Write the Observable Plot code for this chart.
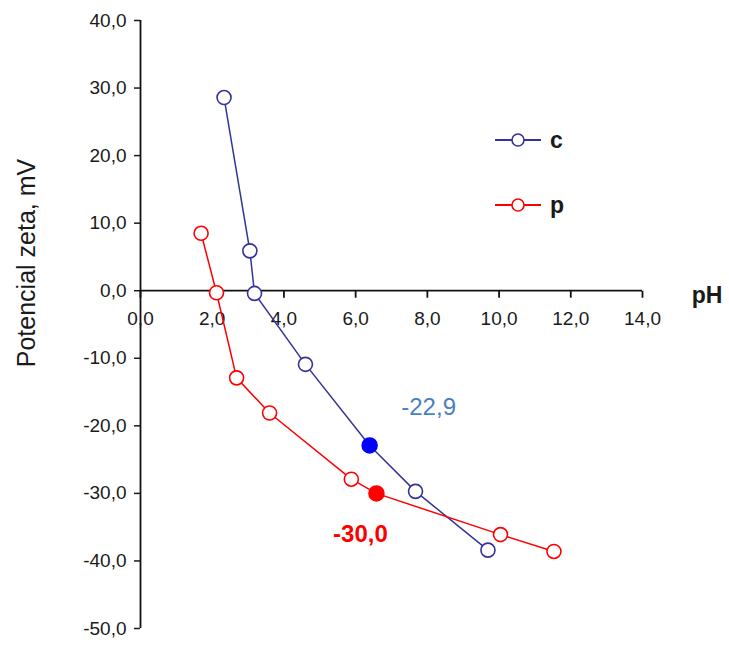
<!DOCTYPE html>
<html>
<head>
<meta charset="utf-8">
<script src="https://cdn.jsdelivr.net/npm/d3@7"></script>
<script src="https://cdn.jsdelivr.net/npm/@observablehq/plot@0.6"></script>
<style>
  html, body { margin: 0; padding: 0; background: #fff; }
  #wrap { position: relative; width: 729px; height: 645px; font-family: "Liberation Sans", Arial, sans-serif; }
  #ylab { position: absolute; left: 26px; top: 263px; transform: translate(-50%, -50%) rotate(-90deg); font-size: 25px; color: #1a1a1a; white-space: nowrap; }
  #xlab { position: absolute; left: 707px; top: 295px; transform: translate(-50%, -50%); font-size: 23px; font-weight: bold; color: #1a1a1a; }
  #legend { position: absolute; left: 0; top: 0; }
</style>
</head>
<body>
<div id="wrap">
  <div id="chart"></div>
  <div id="ylab">Potencial zeta, mV</div>
  <div id="xlab">pH</div>
</div>
<script>
// ---- data ----
const seriesNames = ["c", "p"];
const seriesColors = ["#333399", "#ff0000"];
const highlightColors = ["#0000ff", "#ff0000"];
const cX = [2.33, 3.05, 3.18, 4.6, 6.39, 7.67, 9.69];
const cY = [28.6, 5.9, -0.4, -10.9, -22.9, -29.7, -38.4];
const cHighlight = 4;
const pX = [1.69, 2.12, 2.68, 3.6, 5.88, 6.58, 10.04, 11.53];
const pY = [8.5, -0.3, -12.9, -18.1, -27.9, -30.0, -36.1, -38.6];
const pHighlight = 5;
const xTicks = [0, 2, 4, 6, 8, 10, 12, 14];
const yTicks = [-50, -40, -30, -20, -10, 0, 10, 20, 30, 40];

const fmt = v => v.toFixed(1).replace(".", ",");

const c = cX.map((x, i) => ({x, y: cY[i], hi: i === cHighlight}));
const p = pX.map((x, i) => ({x, y: pY[i], hi: i === pHighlight}));

const tickSymbol = { draw(ctx, size) { ctx.moveTo(0, 0); ctx.lineTo(0, 7); } };

const chart = Plot.plot({
  width: 729,
  height: 645,
  marginLeft: 140,
  marginRight: 87,
  marginTop: 20,
  marginBottom: 17,
  x: {domain: [0, 14]},
  y: {domain: [-50, 40]},
  style: {fontFamily: "'Liberation Sans', Arial, sans-serif", fontSize: "19px", color: "#1a1a1a", background: "white"},
  marks: [
    Plot.axisY(yTicks, {anchor: "left", tickSize: 6, tickPadding: 8, tickFormat: fmt, label: null, fontSize: 19, strokeWidth: 1.5}),
    Plot.axisX([], {label: null, tickSize: 0}),
    Plot.ruleX([0], {y1: -50, y2: 40, stroke: "#111", strokeWidth: 1.8}),
    Plot.ruleY([0], {x1: 0, x2: 14, stroke: "#111", strokeWidth: 1.8}),
    Plot.dot(xTicks, {x: d => d, y: () => 0, symbol: tickSymbol, stroke: "#111", strokeWidth: 1.8, fill: "none"}),
    Plot.text(xTicks, {x: d => d, y: () => 0, text: d => fmt(d), dy: 28, fontSize: 19, fill: "#1a1a1a"}),
    Plot.line(c, {x: "x", y: "y", stroke: seriesColors[0], strokeWidth: 1.5}),
    Plot.line(p, {x: "x", y: "y", stroke: seriesColors[1], strokeWidth: 1.5}),
    Plot.dot(c.filter(d => !d.hi), {x: "x", y: "y", r: 7, stroke: seriesColors[0], fill: "white", strokeWidth: 1.6}),
    Plot.dot(p.filter(d => !d.hi), {x: "x", y: "y", r: 7, stroke: seriesColors[1], fill: "white", strokeWidth: 1.6}),
    Plot.dot(c.filter(d => d.hi), {x: "x", y: "y", r: 7.5, fill: highlightColors[0], stroke: highlightColors[0]}),
    Plot.dot(p.filter(d => d.hi), {x: "x", y: "y", r: 7.5, fill: highlightColors[1], stroke: highlightColors[1]}),
    Plot.text(c.filter(d => d.hi), {x: "x", y: "y", text: d => fmt(d.y), dx: 59, dy: -38, fontSize: 24, fill: "#4a7fc1"}),
    Plot.text(p.filter(d => d.hi), {x: "x", y: "y", text: d => fmt(d.y), dx: -16, dy: 41, fontSize: 24, fontWeight: "bold", fill: "#ff0000"})
  ]
});
document.getElementById("chart").appendChild(chart);

// legend overlay
const leg = d3.select("#wrap").append("svg").attr("id", "legend").attr("width", 729).attr("height", 645);
const rowY = [140, 205];
seriesNames.forEach((name, i) => {
  const g = leg.append("g").attr("transform", `translate(495,${rowY[i]})`);
  g.append("line").attr("x1", 0).attr("x2", 46).attr("y1", 0).attr("y2", 0).attr("stroke", seriesColors[i]).attr("stroke-width", 1.8);
  g.append("circle").attr("cx", 23).attr("cy", 0).attr("r", 6).attr("fill", "white").attr("stroke", seriesColors[i]).attr("stroke-width", 1.6);
  g.append("text").attr("x", 55).attr("y", 0).attr("dy", "0.35em").attr("font-size", 23).attr("font-weight", "bold")
    .attr("font-family", "'Liberation Sans', Arial, sans-serif").attr("fill", "#1a1a1a").text(name);
});
</script>
</body>
</html>
